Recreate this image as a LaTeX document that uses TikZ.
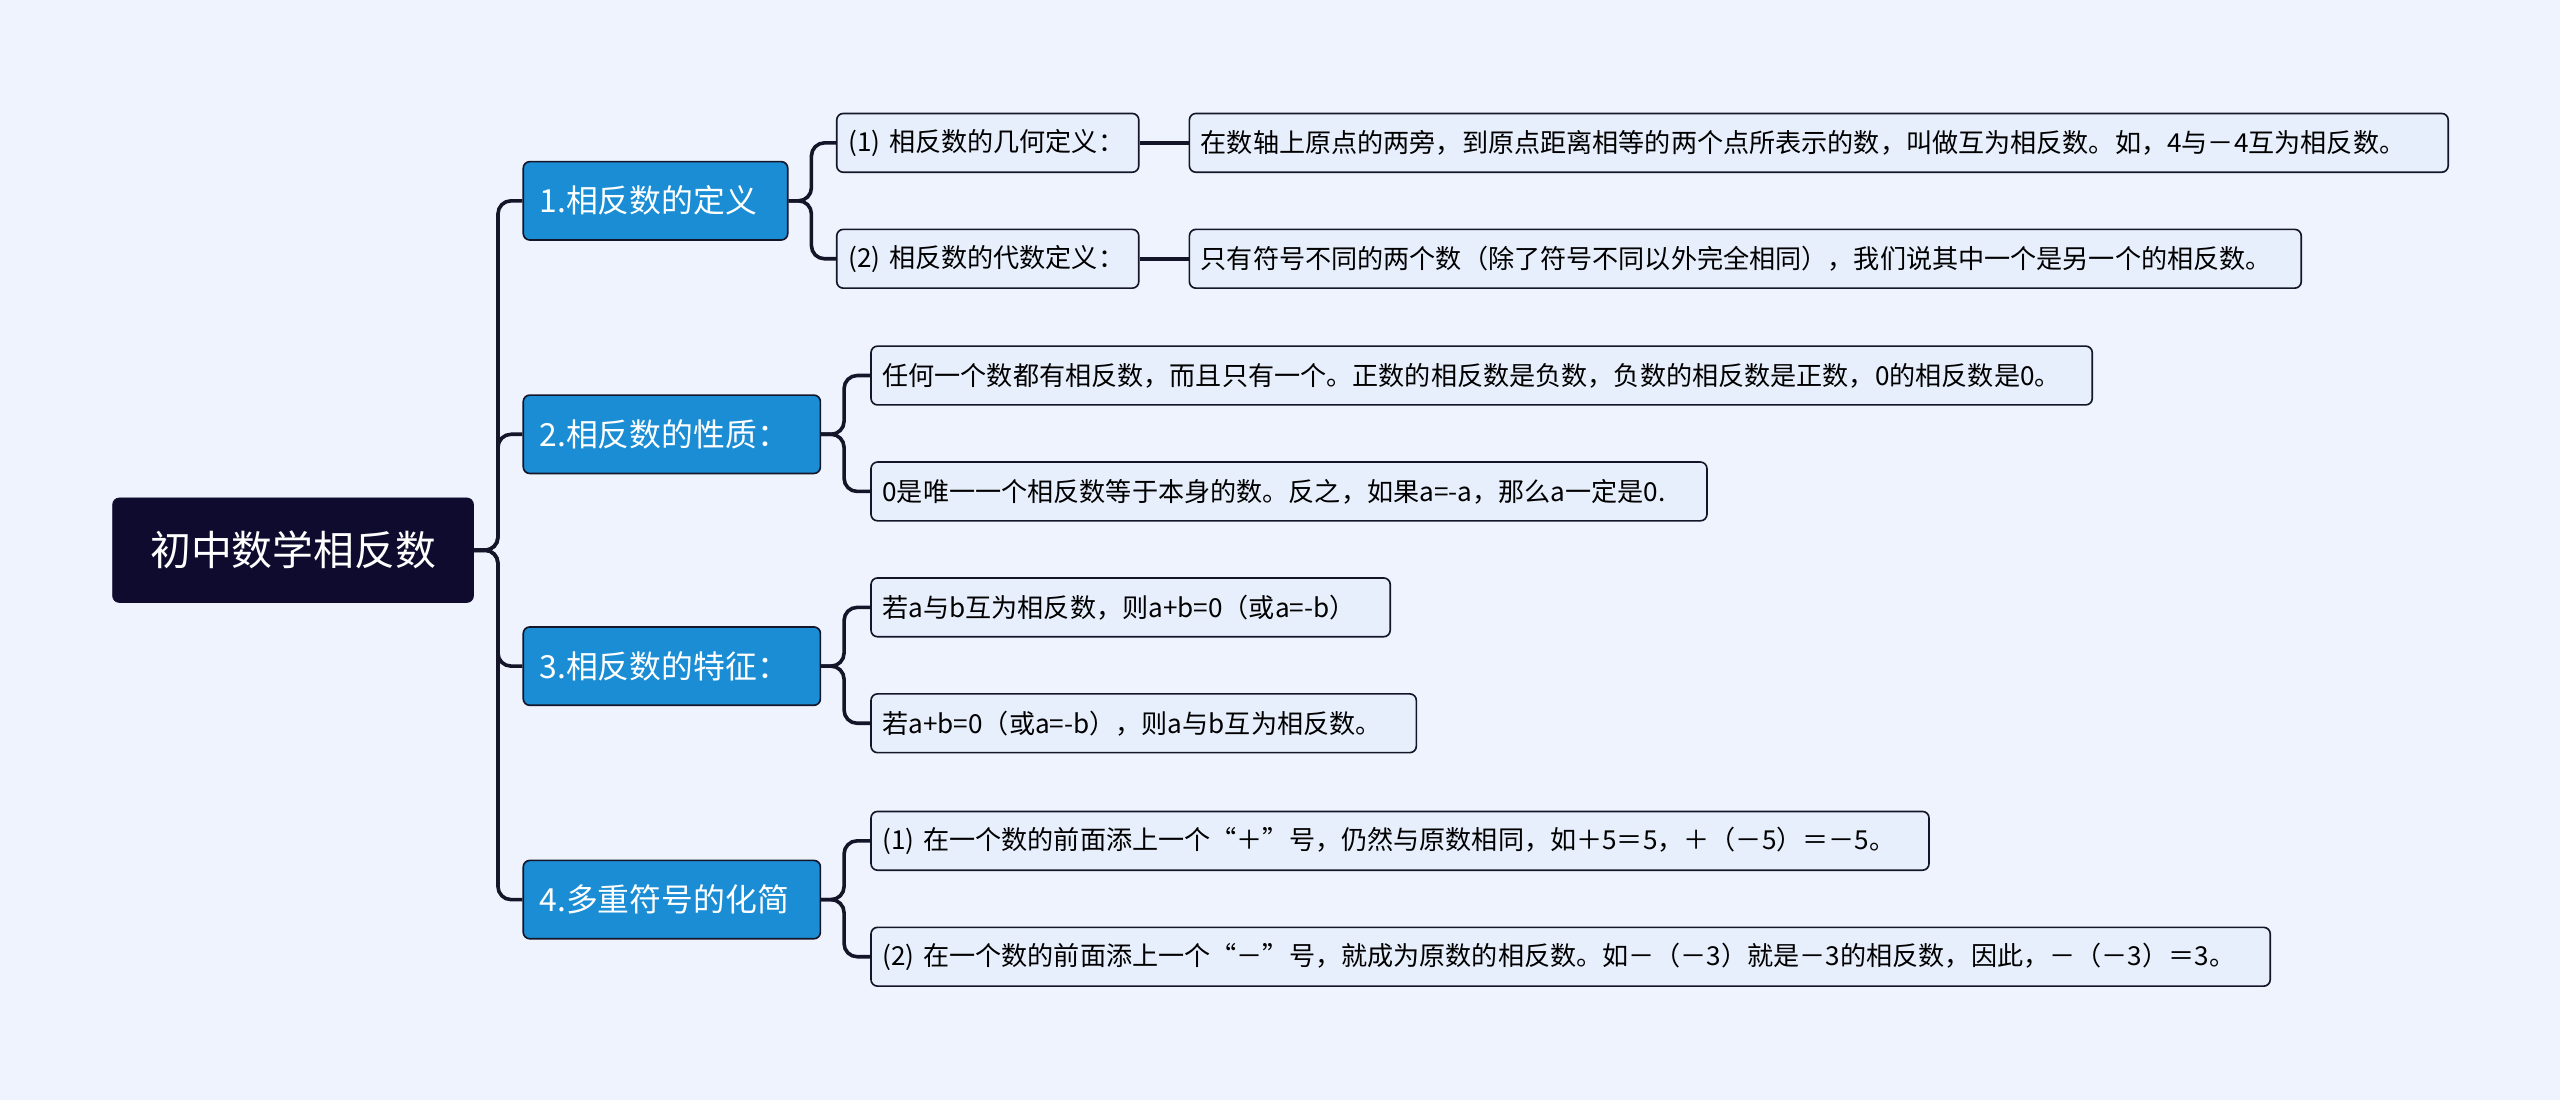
\documentclass[tikz,border=0pt]{standalone}
\usepackage{fontspec}
\setmainfont{Noto Sans CJK SC}
\usetikzlibrary{calc}
\definecolor{bg}{HTML}{EEF3FD}
\definecolor{rootc}{HTML}{0F0B2E}
\definecolor{l1c}{HTML}{1A8DD4}
\definecolor{l2c}{HTML}{E8EFFC}
\definecolor{linec}{HTML}{15152A}
\tikzset{
 rootbox/.style={fill=rootc,draw=rootc,rounded corners=4pt,text=white,font=\fontsize{25}{28}\selectfont,minimum width=221pt,minimum height=64pt,inner sep=0pt},
 lonebox/.style={fill=l1c,draw=linec,line width=1pt,rounded corners=4pt,text=white,font=\fontsize{19.5}{22}\selectfont,minimum height=48pt,inner xsep=10pt,inner ysep=0pt,anchor=west,align=left},
 ltwobox/.style={fill=l2c,draw=linec,line width=1pt,rounded corners=4pt,text=black,font=\fontsize{16}{18}\selectfont,minimum height=36pt,inner xsep=7pt,inner ysep=0pt,anchor=west,align=left},
 conn/.style={draw=linec,line width=2.2pt,rounded corners=8pt},
}
\begin{document}
\begin{tikzpicture}[x=1pt,y=-1pt]
\fill[bg] (0,0) rectangle (1568,674);
\useasboundingbox (0,0) rectangle (1568,674);
\node[rootbox] (root) at (179.5,337) {初中数学相反数};
\node[lonebox,text width=142pt] (n1) at (320,123) {1.相反数的定义};
\node[lonebox,text width=162pt] (n2) at (320,266) {2.相反数的性质：};
\node[lonebox,text width=162pt] (n3) at (320,408) {3.相反数的特征：};
\node[lonebox,text width=162pt] (n4) at (320,551) {4.多重符号的化简};
\node[ltwobox,text width=171pt] (a1) at (512,87.5) {(1) 相反数的几何定义：};
\node[ltwobox,text width=757pt] (a1d) at (728,87.5) {在数轴上原点的两旁，到原点距离相等的两个点所表示的数，叫做互为相反数。如，4与－4互为相反数。};
\node[ltwobox,text width=171pt] (a2) at (512,158.5) {(2) 相反数的代数定义：};
\node[ltwobox,text width=667pt] (a2d) at (728,158.5) {只有符号不同的两个数（除了符号不同以外完全相同），我们说其中一个是另一个的相反数。};
\node[ltwobox,text width=734pt] (b1) at (533,230) {任何一个数都有相反数，而且只有一个。正数的相反数是负数，负数的相反数是正数，0的相反数是0。};
\node[ltwobox,text width=498pt] (b2) at (533,301) {0是唯一一个相反数等于本身的数。反之，如果a=-a，那么a一定是0.};
\node[ltwobox,text width=304pt] (c1) at (533,372) {若a与b互为相反数，则a+b=0（或a=-b）};
\node[ltwobox,text width=320pt] (c2) at (533,443) {若a+b=0（或a=-b），则a与b互为相反数。};
\node[ltwobox,text width=634pt] (d1) at (533,515) {(1) 在一个数的前面添上一个“＋”号，仍然与原数相同，如＋5＝5，＋（－5）＝－5。};
\node[ltwobox,text width=843pt] (d2) at (533,586) {(2) 在一个数的前面添上一个“－”号，就成为原数的相反数。如－（－3）就是－3的相反数，因此，－（－3）＝3。};
\coordinate (j0) at (305,337);
\foreach \n in {n1,n2,n3,n4} \draw[conn] (root.east) -- (j0) |- (\n.west);
\coordinate (j1) at (497,123);
\foreach \n in {a1,a2} \draw[conn] (n1.east) -- (j1) |- (\n.west);
\draw[conn] (a1.east) -- (a1d.west);
\draw[conn] (a2.east) -- (a2d.west);
\coordinate (j2) at (517,266);
\foreach \n in {b1,b2} \draw[conn] (n2.east) -- (j2) |- (\n.west);
\coordinate (j3) at (517,408);
\foreach \n in {c1,c2} \draw[conn] (n3.east) -- (j3) |- (\n.west);
\coordinate (j4) at (517,551);
\foreach \n in {d1,d2} \draw[conn] (n4.east) -- (j4) |- (\n.west);
\end{tikzpicture}
\end{document}
